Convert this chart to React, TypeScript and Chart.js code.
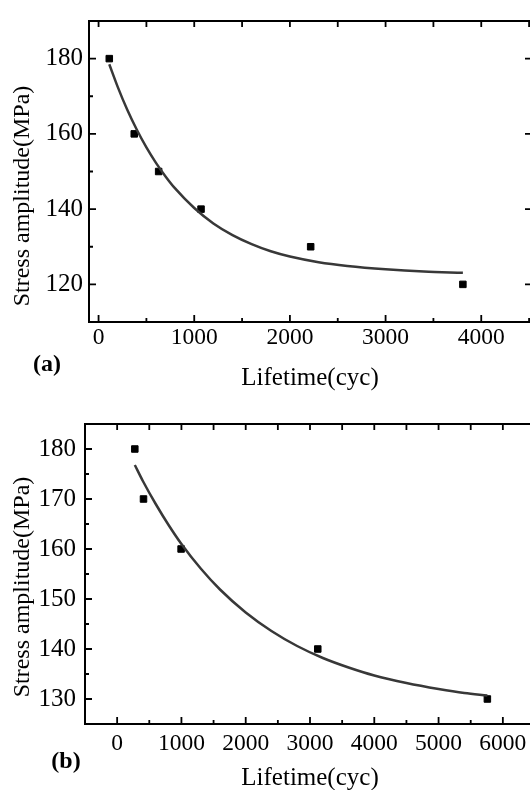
import React, { useEffect, useRef } from 'react';
import { Chart, registerables } from 'chart.js';

Chart.register(...registerables);

// ---------- Panel (a) ----------
const A_LIFE = [112, 373, 628, 1071, 2217, 3808];
const A_STRESS = [180, 160, 150, 140, 130, 120];
const A_FIT_X = [112, 200, 300, 400, 500, 600, 700, 800, 1000, 1200, 1400, 1600, 1800, 2000, 2300, 2600, 3000, 3400, 3808];
const A_FIT_Y = [178.5, 172.5, 166.4, 161.1, 156.4, 152.3, 148.7, 145.5, 140.3, 136.2, 133.1, 130.7, 128.8, 127.4, 125.9, 124.9, 124.0, 123.4, 123.1];
const A_X_LABELS = [0, 1000, 2000, 3000, 4000];
const A_Y_LABELS = [120, 140, 160, 180];

// ---------- Panel (b) ----------
const B_LIFE = [275, 410, 995, 3121, 5759];
const B_STRESS = [180, 170, 160, 140, 130];
const B_FIT_X = [275, 400, 600, 800, 1000, 1300, 1600, 2000, 2400, 2800, 3200, 3600, 4000, 4500, 5000, 5400, 5759];
const B_FIT_Y = [176.8, 173.6, 169.0, 164.8, 161.0, 156.1, 151.9, 147.3, 143.6, 140.6, 138.2, 136.3, 134.7, 133.2, 132.0, 131.2, 130.7];
const B_X_LABELS = [0, 1000, 2000, 3000, 4000, 5000, 6000];
const B_Y_LABELS = [130, 140, 150, 160, 170, 180];

const X_TITLE = 'Lifetime(cyc)';
const Y_TITLE = 'Stress amplitude(MPa)';

const SERIF = '"Liberation Serif", "Times New Roman", serif';

const framePlugin = {
  id: 'frame',
  afterDraw(chart: any) {
    const o = chart.options.plugins.frame;
    const { ctx, chartArea: a } = chart;
    const xs = chart.scales.x;
    const ys = chart.scales.y;
    ctx.save();
    ctx.strokeStyle = '#000';
    ctx.lineWidth = 1.8;
    ctx.beginPath();
    for (const t of xs.ticks) {
      const px = xs.getPixelForValue(t.value);
      if (px <= a.left + 1 || px >= a.right - 1) continue;
      const major = t.value % o.xMajor === 0;
      ctx.moveTo(px, a.bottom);
      ctx.lineTo(px, a.bottom - (major ? 7 : 4));
      ctx.moveTo(px, a.top);
      ctx.lineTo(px, a.top + 6);
    }
    for (const t of ys.ticks) {
      const py = ys.getPixelForValue(t.value);
      if (py <= a.top + 1 || py >= a.bottom - 1) continue;
      const major = t.value % o.yMajor === 0;
      ctx.moveTo(a.left, py);
      ctx.lineTo(a.left + (major ? 7 : 4), py);
      if (major && o.rightTicks) {
        ctx.moveTo(a.right, py);
        ctx.lineTo(a.right - 6, py);
      }
    }
    ctx.stroke();
    ctx.lineWidth = 2;
    ctx.strokeRect(a.left, a.top, a.right - a.left, a.bottom - a.top);

    ctx.fillStyle = '#000';
    ctx.textAlign = 'center';
    ctx.textBaseline = 'middle';
    ctx.font = `24px ${SERIF}`;
    ctx.save();
    ctx.translate(o.yTitleX, o.yTitleY);
    ctx.rotate(-Math.PI / 2);
    ctx.fillText(Y_TITLE, 0, 0);
    ctx.restore();

    ctx.font = `bold 24px ${SERIF}`;
    ctx.fillText(o.tag, o.tagX, o.tagY);
    ctx.restore();
  },
};

function stepTicks(min: number, max: number, step: number) {
  const out: { value: number }[] = [];
  for (let v = Math.ceil(min / step) * step; v <= max; v += step) out.push({ value: v });
  return out;
}

function buildConfig(p: any) {
  return {
    type: 'scatter',
    data: {
      datasets: [
        {
          label: 'fit',
          data: p.fitX.map((x: number, i: number) => ({ x, y: p.fitY[i] })),
          showLine: true,
          borderColor: '#383838',
          borderWidth: 2.5,
          pointRadius: 0,
          cubicInterpolationMode: 'monotone',
          fill: false,
        },
        {
          label: 'data',
          data: p.life.map((x: number, i: number) => ({ x, y: p.stress[i] })),
          pointStyle: 'rect',
          pointRadius: 4.6,
          pointBorderWidth: 1,
          backgroundColor: '#000',
          borderColor: '#000',
          showLine: false,
        },
      ],
    },
    options: {
      animation: false,
      responsive: false,
      devicePixelRatio: 1,
      layout: { padding: { top: p.padTop, right: p.padRight, left: 0, bottom: 0 } },
      plugins: {
        legend: { display: false },
        tooltip: { enabled: false },
        frame: {
          xMajor: 1000,
          yMajor: p.yMajor,
          rightTicks: p.rightTicks,
          yTitleX: 23,
          yTitleY: p.yTitleY,
          tag: p.tag,
          tagX: p.tagX,
          tagY: p.tagY,
        },
      },
      scales: {
        x: {
          type: 'linear',
          min: p.xMin,
          max: p.xMax,
          grid: { display: false, drawTicks: false },
          border: { display: false },
          afterFit: (s: any) => { s.height = p.xAxisH; },
          afterBuildTicks: (s: any) => { s.ticks = stepTicks(p.xMin, p.xMax, 500); },
          ticks: {
            autoSkip: false,
            maxRotation: 0,
            padding: p.xTickPad,
            color: '#000',
            font: { family: SERIF, size: 23.5 },
            callback: (v: number) => (p.xLabels.includes(v) ? String(v) : ''),
          },
          title: {
            display: true,
            text: X_TITLE,
            color: '#000',
            font: { family: SERIF, size: 25 },
            padding: { top: 0, bottom: 2 },
          },
        },
        y: {
          type: 'linear',
          min: p.yMin,
          max: p.yMax,
          grid: { display: false, drawTicks: false },
          border: { display: false },
          afterFit: (s: any) => { s.width = p.yAxisW; },
          afterBuildTicks: (s: any) => { s.ticks = stepTicks(p.yMin, p.yMax, p.yStep); },
          ticks: {
            autoSkip: false,
            padding: p.yTickPad,
            color: '#000',
            font: { family: SERIF, size: 25 },
            callback: (v: number) => (p.yLabels.includes(v) ? String(v) : ''),
          },
        },
      },
    },
    plugins: [framePlugin],
  };
}

function Panel({ params, top, width, height }: any) {
  const ref = useRef<HTMLCanvasElement>(null);
  useEffect(() => {
    const chart = new Chart(ref.current as HTMLCanvasElement, buildConfig(params) as any);
    return () => chart.destroy();
  }, []);
  return (
    <canvas
      ref={ref}
      width={width}
      height={height}
      style={{ position: 'absolute', left: 0, top, width, height, display: 'block' }}
    />
  );
}

const PARAMS_A = {
  life: A_LIFE, stress: A_STRESS, fitX: A_FIT_X, fitY: A_FIT_Y,
  xLabels: A_X_LABELS, yLabels: A_Y_LABELS,
  xMin: -100, xMax: 4520, yMin: 110, yMax: 190, yStep: 10, yMajor: 20,
  padTop: 15, padRight: 9, xAxisH: 73, yAxisW: 89,
  xTickPad: 2, yTickPad: 6, rightTicks: true,
  yTitleY: 196, tag: '(a)', tagX: 47, tagY: 365,
};

const PARAMS_B = {
  life: B_LIFE, stress: B_STRESS, fitX: B_FIT_X, fitY: B_FIT_Y,
  xLabels: B_X_LABELS, yLabels: B_Y_LABELS,
  xMin: -500, xMax: 6500, yMin: 125, yMax: 185, yStep: 5, yMajor: 10,
  padTop: 17, padRight: 10, xAxisH: 71, yAxisW: 85,
  xTickPad: 6, yTickPad: 9, rightTicks: false,
  yTitleY: 187, tag: '(b)', tagX: 66, tagY: 362,
};

export default function App() {
  return (
    <div style={{ position: 'fixed', left: 0, top: 0, width: 530, height: 790, overflow: 'hidden', background: '#fff' }}>
      <Panel params={PARAMS_A} top={0} width={540} height={395} />
      <Panel params={PARAMS_B} top={400} width={545} height={395} />
    </div>
  );
}
